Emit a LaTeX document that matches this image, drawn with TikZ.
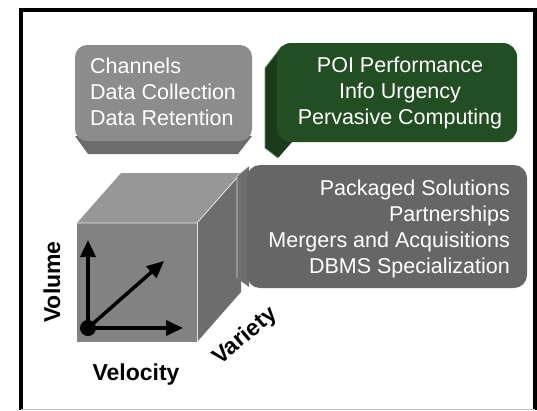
\documentclass[tikz,border=0pt]{standalone}
\usepackage{fontspec}
\setmainfont{Liberation Sans}
\usetikzlibrary{arrows.meta}
\definecolor{lightbox}{HTML}{8C8C8C}
\definecolor{lightslab}{HTML}{6C6C6C}
\definecolor{greenbox}{HTML}{234D23}
\definecolor{greenslab}{HTML}{1A3A1A}
\definecolor{darkbox}{HTML}{666666}
\definecolor{darkslab}{HTML}{6E6E6E}
\definecolor{cubefront}{HTML}{828282}
\definecolor{cubetop}{HTML}{979797}
\definecolor{cubeside}{HTML}{6D6D6D}

\begin{document}
\begin{tikzpicture}[x=1pt,y=-1pt,
  boxtext/.style={text=white,inner sep=0pt,font=\fontsize{21.5}{26}\selectfont},
  axislabel/.style={inner sep=0pt,font=\bfseries\fontsize{23}{26}\selectfont},
  axisarrow/.style={line width=3.5pt,-{Triangle[length=17pt,width=15pt]}}]
  \useasboundingbox (0,0) rectangle (537,410);
  % frame
  \draw[line width=4pt] (21,410) -- (21,10) -- (535,10) -- (535,410);
  \draw[black!25,line width=1pt] (21,409) -- (535,409);
  % gray box, slab below
  \fill[lightslab] (75,136) -- (252,136) -- (238,154) -- (88,154) -- cycle;
  \fill[lightbox,rounded corners=12pt] (75,45) rectangle (252,141);
  \node[boxtext,anchor=north west,align=left] (infra) at (90,57.5)
    {Channels\\Data Collection\\Data Retention};
  % green box, slab on the left
  \fill[greenslab] (282,46) -- (265,68) -- (265,148) -- (278,158) -- (292,142) -- cycle;
  \draw[green!30!black!60,line width=0.8pt] (282,46) -- (265,68) -- (265,148) -- (278,158);
  \fill[greenbox,rounded corners=14pt] (277,43) rectangle (517,142);
  \node[boxtext,anchor=north,align=center] (perf) at (400,56.5)
    {POI Performance\\Info Urgency\\Pervasive Computing};
  % cube
  \fill[cubefront] (77,223) rectangle (197,342);
  \fill[cubetop] (77,223) -- (121,173) -- (241,173) -- (197,223) -- cycle;
  \fill[cubeside] (197,223) -- (241,173) -- (241,292) -- (197,342) -- cycle;
  \draw[white!80!gray,line width=0.8pt] (77,223) -- (197,223) -- (241,173);
  \draw[white!80!gray,line width=0.8pt] (197,223) -- (197,342);
  % dark box, slab on the left over the cube
  \fill[darkslab] (249,166) -- (237,176) -- (237,278) -- (249,287) -- cycle;
  \draw[white!70!gray,line width=0.6pt] (249,166) -- (237,176) -- (237,278);
  \fill[darkbox,rounded corners=13pt] (247,165) rectangle (527,288);
  \node[boxtext,anchor=north east,align=right] (market) at (510,179.5)
    {Packaged Solutions\\Partnerships\\Mergers and Acquisitions\\DBMS Specialization};
  % axes
  \coordinate (origin) at (88,328);
  \coordinate (tipvol) at (88,240);
  \coordinate (tipvel) at (183,328);
  \coordinate (tipvar) at (164,261);
  \draw[axisarrow] (origin) -- (tipvol);
  \draw[axisarrow] (origin) -- (tipvel);
  \draw[axisarrow] (origin) -- (tipvar);
  \fill (origin) circle (8);
  \node[axislabel,rotate=90] (volume) at (52,282) {Volume};
  \node[axislabel,anchor=base] (velocity) at (136,380) {Velocity};
  \node[axislabel,anchor=base,rotate=40] (variety) at (249,341) {Variety};
\end{tikzpicture}
\end{document}
